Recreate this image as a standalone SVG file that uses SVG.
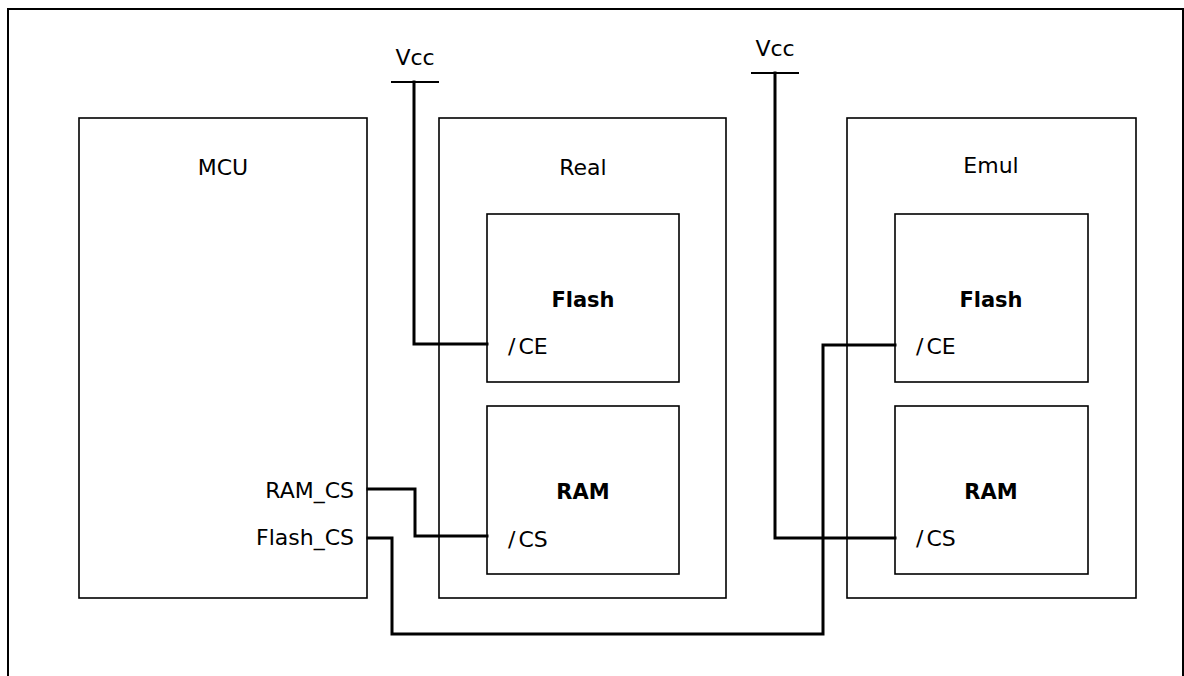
<svg xmlns="http://www.w3.org/2000/svg" width="1184" height="676" viewBox="0 0 1184 676">
<style>
.frame{fill:none;stroke:#000;stroke-width:2}
.box{fill:#fff;stroke:#000;stroke-width:1.6}
.wire{fill:none;stroke:#000;stroke-width:3;stroke-linejoin:miter;stroke-linecap:square}
.bar{stroke:#000;stroke-width:2}
text{font-family:"DejaVu Sans","Liberation Sans",sans-serif;font-size:22px;fill:#000}
.b{font-weight:bold;font-size:21px}
.m{text-anchor:middle}
.e{text-anchor:end}
</style>
<rect width="1184" height="676" fill="#fff"/>
<rect class="frame" x="8" y="9" width="1175" height="700"/>
<g id="mcu">
<rect class="box" x="79" y="118" width="288" height="480"/>
<text class="m" x="223" y="175">MCU</text>
<text class="e" x="354" y="498">RAM_CS</text>
<text class="e" x="354" y="545">Flash_CS</text>
</g>
<g id="real">
<rect class="box" x="439" y="118" width="287" height="480"/>
<text class="m" x="583" y="175">Real</text>
</g>
<g id="real-flash">
<rect class="box" x="487" y="214" width="192" height="168"/>
<text class="m b" x="583" y="307">Flash</text>
<text x="508" y="354"><tspan>/</tspan><tspan dx="3">CE</tspan></text>
</g>
<g id="real-ram">
<rect class="box" x="487" y="406" width="192" height="168"/>
<text class="m b" x="583" y="499">RAM</text>
<text x="508" y="547"><tspan>/</tspan><tspan dx="3">CS</tspan></text>
</g>
<g id="emul">
<rect class="box" x="847" y="118" width="289" height="480"/>
<text class="m" x="991" y="173">Emul</text>
</g>
<g id="emul-flash">
<rect class="box" x="895" y="214" width="193" height="168"/>
<text class="m b" x="991" y="307">Flash</text>
<text x="916" y="354"><tspan>/</tspan><tspan dx="3">CE</tspan></text>
</g>
<g id="emul-ram">
<rect class="box" x="895" y="406" width="193" height="168"/>
<text class="m b" x="991" y="499">RAM</text>
<text x="916" y="546"><tspan>/</tspan><tspan dx="3">CS</tspan></text>
</g>
<g id="vcc1">
<text class="m" x="415" y="65">Vcc</text>
<line class="bar" x1="391" y1="82" x2="439" y2="82"/>
</g>
<g id="vcc2">
<text class="m" x="775" y="56">Vcc</text>
<line class="bar" x1="751" y1="73" x2="799" y2="73"/>
</g>
<g id="connectors">
<polyline class="wire" points="414,82 414,344 487,344"/>
<polyline class="wire" points="775,73 775,538 895,538"/>
<polyline class="wire" points="368,489 415,489 415,536 487,536"/>
<polyline class="wire" points="368,538 392,538 392,634 823,634 823,345 895,345"/>
</g>
</svg>
